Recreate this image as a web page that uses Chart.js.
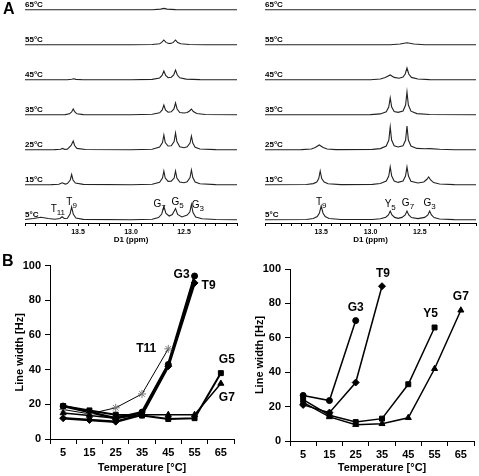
<!doctype html>
<html lang="en">
<head>
<meta charset="utf-8">
<title>Imino proton spectra and line widths</title>
<style>
  * { margin: 0; padding: 0; }
  body { background: #fff; font-family: "Liberation Sans", Arial, sans-serif; }
  .fig { position: relative; width: 479px; height: 476px; overflow: hidden; }
  .fig canvas { position: absolute; }
  .letter { position: absolute; font-weight: bold; font-size: 16px; line-height: 1; }
</style>
</head>
<body>
<div class="fig">
  <canvas id="specLeft" width="240" height="250" style="left:0;top:0"></canvas>
  <canvas id="specRight" width="239" height="250" style="left:240px;top:0"></canvas>
  <canvas id="lwLeft" width="240" height="221" style="left:0;top:255px"></canvas>
  <canvas id="lwRight" width="239" height="221" style="left:240px;top:255px"></canvas>
  <div class="letter" style="left:3px;top:1px">A</div>
  <div class="letter" style="left:2px;top:253px">B</div>
</div>
<script src="https://cdn.jsdelivr.net/npm/chart.js"></script>
<script>
// ---- panel A: 1D imino spectra, [ppm, intensity] ----
const temps = ['5°C', '15°C', '25°C', '35°C', '45°C', '55°C', '65°C'];

const specL5 = [[14.00,0.5],[13.92,1.5],[13.85,2.8],[13.78,1.5],[13.72,0.8],[13.67,1.5],[13.65,3.2],[13.63,1.5],
  [13.60,1.8],[13.575,6],[13.56,13],[13.545,6],[13.52,2],[13.45,0.6],[13.0,0.2],[12.80,0.8],[12.74,2.5],[12.71,6],
  [12.69,13.5],[12.67,6.5],[12.64,4],[12.61,5.5],[12.58,11.5],[12.56,5.5],[12.52,3],[12.47,5],[12.445,8],[12.43,15.5],
  [12.415,7.5],[12.39,3],[12.33,1.2],[12.2,0.5],[12.0,0.3]];
const specL15 = [[14.0,0.2],[13.75,0.4],[13.68,0.8],[13.65,2.2],[13.62,0.9],[13.6,1.5],[13.573,5],[13.56,10.5],
  [13.547,5],[13.525,2],[13.45,0.6],[13.0,0.2],[12.8,0.8],[12.73,2.8],[12.703,7],[12.69,14],[12.677,7],[12.65,3.6],
  [12.62,3.8],[12.593,7],[12.58,14],[12.567,7],[12.54,3],[12.5,2.2],[12.47,3.2],[12.443,7.5],[12.43,15],[12.417,7.5],
  [12.395,3],[12.35,1.2],[12.2,0.4],[12.0,0.2]];
const specL25 = [[14.0,0.2],[13.72,0.4],[13.665,0.7],[13.645,1.6],[13.625,0.6],[13.6,0.9],[13.565,4.5],[13.545,9],
  [13.532,4.5],[13.51,1.6],[13.43,0.5],[13.0,0.2],[12.8,0.8],[12.73,3],[12.703,7.5],[12.69,15],[12.677,7.5],[12.65,4],
  [12.62,4.2],[12.593,8.5],[12.58,17],[12.567,8.5],[12.54,3.2],[12.5,2.3],[12.47,3.2],[12.443,7],[12.43,14],[12.417,7],
  [12.395,2.8],[12.35,1],[12.2,0.4],[12.0,0.2]];
const specL35 = [[14.0,0.2],[13.62,0.4],[13.58,1.2],[13.56,3],[13.545,6],[13.53,3],[13.51,1.2],[13.45,0.4],[13.0,0.2],
  [12.8,0.7],[12.73,2.2],[12.705,5],[12.69,10],[12.675,5],[12.65,2.8],[12.62,3.2],[12.595,6],[12.58,12],[12.565,6],
  [12.54,2.5],[12.5,2],[12.47,2.5],[12.448,4],[12.43,6],[12.412,3.5],[12.38,1.5],[12.3,0.5],[12.0,0.2]];
const specL45 = [[14.0,0.2],[13.6,0.3],[13.56,0.7],[13.54,1.2],[13.52,0.6],[13.45,0.3],[13.0,0.2],[12.8,0.6],[12.73,2],
  [12.707,4.5],[12.69,9],[12.673,4.5],[12.65,2.3],[12.62,2.8],[12.597,5],[12.58,10],[12.563,5],[12.54,2.2],[12.48,0.9],
  [12.35,0.4],[12.0,0.2]];
const specL55 = [[14.0,0.2],[13.0,0.2],[12.8,0.5],[12.73,1.3],[12.71,2.6],[12.69,5],[12.67,2.6],[12.645,1.5],[12.625,1.6],
  [12.6,2.6],[12.58,5],[12.56,2.5],[12.53,1.2],[12.45,0.5],[12.3,0.2],[12.0,0.2]];
const specL65 = [[14.0,0.2],[12.8,0.3],[12.72,0.9],[12.69,1.6],[12.66,0.9],[12.58,0.4],[12.0,0.2]];

const specR5 = [[14.07,0.2],[13.65,0.5],[13.58,1.5],[13.54,3.5],[13.518,7],[13.5,14],[13.482,7],[13.46,3.5],[13.42,1.5],
  [13.3,0.5],[12.98,0.5],[12.9,1.2],[12.845,2.8],[12.818,5],[12.8,9],[12.782,5],[12.755,2.6],[12.72,1.6],[12.68,2.6],
  [12.648,5],[12.63,9],[12.612,5],[12.585,2.4],[12.52,1.4],[12.45,2.6],[12.418,5],[12.4,9],[12.382,5],[12.355,2.4],
  [12.3,1],[12.15,0.4],[11.93,0.2]];
const specR15 = [[14.07,0.2],[13.65,0.5],[13.58,1.4],[13.545,3],[13.525,6.5],[13.51,14],[13.495,6.5],[13.47,3],[13.43,1.3],
  [13.3,0.4],[12.98,0.6],[12.9,1.5],[12.84,4],[12.815,9],[12.8,18],[12.785,9],[12.76,4],[12.72,2.6],[12.67,4],[12.645,9],
  [12.63,18],[12.615,9],[12.59,3.8],[12.52,2],[12.46,3],[12.43,5.5],[12.41,8],[12.39,5],[12.36,2.4],[12.3,1],[12.15,0.4],
  [11.93,0.2]];
const specR25 = [[14.07,0.2],[13.7,0.4],[13.6,1],[13.56,2.5],[13.52,5],[13.48,2.5],[13.44,1],[13.35,0.4],[12.98,0.6],
  [12.9,1.4],[12.84,4],[12.814,10],[12.8,23],[12.786,10],[12.76,4.2],[12.72,3],[12.67,4.2],[12.644,10],[12.63,24],
  [12.616,10],[12.59,4],[12.53,1.6],[12.45,1.2],[12.4,1.4],[12.3,0.7],[12.15,0.3],[11.93,0.2]];
const specR35 = [[14.07,0.2],[13.0,0.4],[12.9,1.1],[12.84,3.2],[12.815,8],[12.8,17],[12.785,8],[12.76,3.4],[12.72,2.6],
  [12.67,4],[12.644,10],[12.63,23],[12.616,10],[12.59,3.8],[12.53,1.4],[12.4,0.5],[11.93,0.2]];
const specR45 = [[14.07,0.2],[13.0,0.3],[12.9,1],[12.85,2.4],[12.8,5],[12.76,2.6],[12.71,1.8],[12.67,3],[12.648,6],
  [12.63,12],[12.612,6],[12.585,2.6],[12.52,1],[12.4,0.4],[11.93,0.2]];
const specR55 = [[14.07,0.2],[12.8,0.3],[12.7,1],[12.63,2.2],[12.56,1],[12.45,0.3],[11.93,0.2]];
const specR65 = [[14.07,0.2],[11.93,0.2]];

// peak assignments on the 5 °C trace
const peakNamesLeft = ['T11', 'T9', 'G7', 'G5', 'G3'];
const peakNamesRight = ['T9', 'Y5', 'G7', 'G3'];

// ---- panel B: line widths [Hz] ----
const temperatureTicks = ['5', '15', '25', '35', '45', '55', '65'];
const lwLeftG3 = [19, 15.5, 12, 15.5, 43, 94, null];
const lwLeftT9 = [12, 11, 10, 14, 42, 90, null];
const lwLeftT11 = [17, 14.5, 18, 26, 52, null, null];
const lwLeftG5 = [19, 16.5, 14, 13.5, 11.5, 12, 38];
const lwLeftG7 = [15, 13.5, 12, 14, 14, 14, 32];
const lwRightG3 = [26.5, 23.5, 70, null, null, null, null];
const lwRightT9 = [21, 16.5, 34, 90, null, null, null];
const lwRightY5 = [24, 15, 11, 13, 33, 66, null];
const lwRightG7 = [22.5, 14, 9.5, 10, 13.5, 42, 76];

const FONT = '"Liberation Sans", Arial, sans-serif';
Chart.defaults.font.family = FONT;
Chart.defaults.color = '#000';
const rowStep = 35;

// labels for the stacked traces + peak names with subscripts
const specLabels = {
  id: 'specLabels',
  afterDatasetsDraw(chart, args, opts) {
    const { ctx, chartArea, scales: { x, y } } = chart;
    ctx.save();
    ctx.fillStyle = '#000';
    ctx.font = 'bold 8px ' + FONT;
    ctx.textAlign = 'left';
    ctx.textBaseline = 'alphabetic';
    temps.forEach((t, i) => {
      ctx.fillText(t, chartArea.left, y.getPixelForValue(i * rowStep) - 3);
    });
    ctx.textBaseline = 'middle';
    opts.names.forEach((name, i) => {
      const big = name[0], sub = name.slice(1);
      ctx.font = '10px ' + FONT;
      const wb = ctx.measureText(big).width;
      ctx.font = '8px ' + FONT;
      const ws = ctx.measureText(sub).width;
      const cx = x.getPixelForValue(opts.at[i][0]);
      const cy = y.getPixelForValue(opts.at[i][1]);
      const x0 = cx - (wb + ws) / 2;
      ctx.font = '10px ' + FONT;
      ctx.fillText(big, x0, cy);
      ctx.font = '8px ' + FONT;
      ctx.fillText(sub, x0 + wb, cy + 3.5);
    });
    ctx.restore();
  }
};

function specChart(id, traces, xMin, xMax, names, at) {
  return new Chart(document.getElementById(id), {
    type: 'line',
    data: {
      datasets: traces.map((tr, i) => ({
        label: temps[i],
        data: tr.map(p => ({ x: p[0], y: p[1] + i * rowStep })),
        borderColor: '#222',
        borderWidth: 1.1,
        pointRadius: 0,
        tension: 0
      }))
    },
    options: {
      responsive: false,
      animation: false,
      events: [],
      layout: { padding: { left: 25, right: 3, top: 5, bottom: 0 } },
      plugins: { legend: { display: false }, tooltip: { enabled: false }, specLabels: { names, at } },
      scales: {
        x: {
          type: 'linear', reverse: true, min: xMin, max: xMax,
          grid: { drawOnChartArea: false, tickLength: 3, color: '#000' },
          border: { color: '#000', width: 1 },
          ticks: {
            stepSize: 0.1, autoSkip: false, maxRotation: 0, padding: 2,
            font: { size: 7, weight: 'bold' },
            callback: (v) => {
              const t = Math.round(v * 10);
              return (t % 5 === 0 && t > 120 && t < 140) ? (t / 10).toFixed(1) : '';
            }
          },
          title: { display: true, text: 'D1 (ppm)', font: { size: 8, weight: 'bold' }, padding: { top: 0, bottom: 5 } },
          afterFit: (s) => { s.height = 27; }
        },
        y: { display: false, min: -3, max: 215 }
      }
    },
    plugins: [specLabels]
  });
}

specChart('specLeft', [specL5, specL15, specL25, specL35, specL45, specL55, specL65], 12.0, 14.0,
  peakNamesLeft, [[13.69, 10.5], [13.56, 18], [12.73, 16], [12.56, 18], [12.37, 15]]);
specChart('specRight', [specR5, specR15, specR25, specR35, specR45, specR55, specR65], 11.93, 14.07,
  peakNamesRight, [[13.50, 18], [12.80, 16], [12.62, 17], [12.40, 17]]);

// residue names at the end of each line-width curve
const endLabels = {
  id: 'endLabels',
  afterDatasetsDraw(chart, args, opts) {
    const { ctx } = chart;
    ctx.save();
    ctx.fillStyle = '#000';
    ctx.font = 'bold 12px ' + FONT;
    ctx.textAlign = 'center';
    ctx.textBaseline = 'middle';
    chart.data.datasets.forEach((ds, i) => {
      const pts = chart.getDatasetMeta(i).data;
      let last = -1;
      ds.data.forEach((v, j) => { if (v !== null) last = j; });
      const off = opts.offsets[ds.label];
      ctx.fillText(ds.label, pts[last].x + off[0], pts[last].y + off[1]);
    });
    ctx.restore();
  }
};

function series(label, data, style, radius, width, pointColor) {
  return {
    label, data,
    borderColor: '#000', borderWidth: width,
    pointStyle: style, pointRadius: radius,
    pointBackgroundColor: pointColor || '#000', pointBorderColor: pointColor || '#000', pointBorderWidth: 1,
    tension: 0, spanGaps: false
  };
}

function lwChart(id, datasets, padTop, padRight, xHeight, offsets) {
  return new Chart(document.getElementById(id), {
    type: 'line',
    data: { labels: temperatureTicks, datasets },
    options: {
      responsive: false,
      animation: false,
      events: [],
      layout: { padding: { left: 0, right: padRight, top: padTop, bottom: 0 } },
      plugins: { legend: { display: false }, tooltip: { enabled: false }, endLabels: { offsets } },
      scales: {
        x: {
          type: 'category', offset: true,
          grid: { offset: true, drawOnChartArea: false, tickLength: 5, color: '#000' },
          border: { color: '#000', width: 1 },
          ticks: { autoSkip: false, maxRotation: 0, padding: 2, font: { size: 11, weight: 'bold' } },
          title: { display: true, text: 'Temperature [°C]', font: { size: 11, weight: 'bold' }, padding: { top: 0, bottom: 1 } },
          afterFit: (s) => { s.height = xHeight; }
        },
        y: {
          min: 0, max: 100,
          grid: { drawOnChartArea: false, tickLength: 5, color: '#000' },
          border: { color: '#000', width: 1 },
          ticks: { stepSize: 20, padding: 4, font: { size: 11, weight: 'bold' } },
          title: { display: true, text: 'Line width [Hz]', font: { size: 11, weight: 'bold' }, padding: { top: 13, bottom: 0 } },
          afterFit: (s) => { s.width = 50; }
        }
      }
    },
    plugins: [endLabels]
  });
}

lwChart('lwLeft', [
  series('G7', lwLeftG7, 'triangle', 3.5, 1.5),
  series('G5', lwLeftG5, 'rect', 3.5, 2),
  series('T11', lwLeftT11, 'star', 4, 1, '#777'),
  series('T9', lwLeftT9, 'rectRot', 3.5, 2.5),
  series('G3', lwLeftG3, 'circle', 3, 2.5)
], 10, 6, 37, { G3: [-13, -1], T9: [14, 3], T11: [-22, 0], G5: [6, -13], G7: [6, 14] });

lwChart('lwRight', [
  series('G7', lwRightG7, 'triangle', 3.5, 1.5),
  series('Y5', lwRightY5, 'rect', 3.5, 1.5),
  series('T9', lwRightT9, 'rectRot', 3.5, 1.5),
  series('G3', lwRightG3, 'circle', 3, 1.5)
], 14, 3, 35, { G3: [0, -13], T9: [1, -13], Y5: [-4, -14], G7: [0, -14] });
</script>
</body>
</html>
